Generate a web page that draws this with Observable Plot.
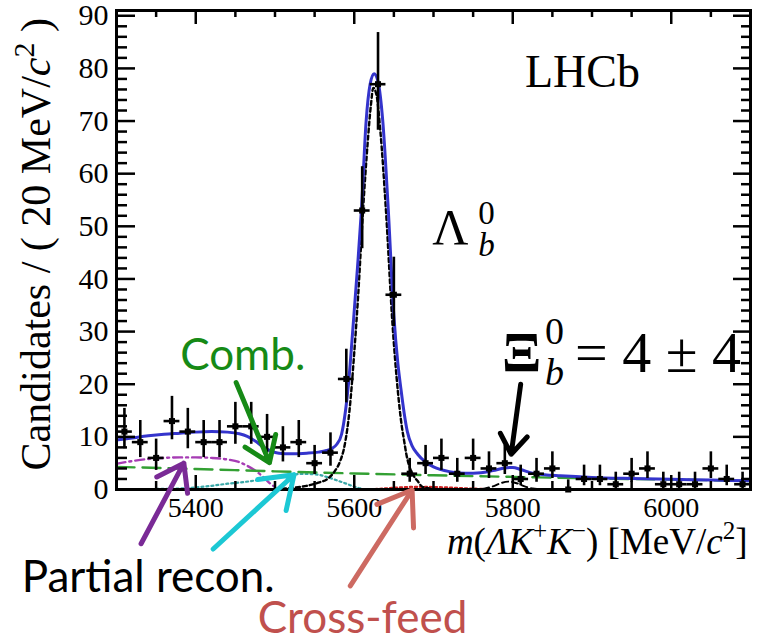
<!DOCTYPE html>
<html><head><meta charset="utf-8">
<script src="https://cdn.jsdelivr.net/npm/d3@7"></script>
<script src="https://cdn.jsdelivr.net/npm/@observablehq/plot@0.6"></script>
<style>html,body{margin:0;padding:0;background:#fff;} #chart svg{display:block;}</style>
</head><body><div id="chart"></div>
<script>
// ---------- data ----------
const binCenters = [5310,5330,5350,5370,5390,5410,5430,5450,5470,5490,5510,5530,5550,5570,5590,5610,5630,5650,5670,5690,5710,5730,5750,5770,5790,5810,5830,5850,5870,5890,5910,5930,5950,5970,5990,6010,6030,6050,6070,6090];
const counts     = [11,9,6,13,11,9,9,12,12,10,8,9,5,7,21,53,77,37,3,5,6,3,6,4,5,2,3,4,0,2,2,1,3,4,1,1,1,4,2,1];

// total fit (blue)
const totalM = [5300,5320,5340,5360,5380,5400,5420,5440,5455,5465,5475,5485,5495,5505,5520,5540,5555,5565,5572,5578,5584,5589,5593,5599,5604,5609,5615,5620,5625,5630,5636,5643,5650,5655,5659,5663,5667,5673,5680,5690,5700,5720,5740,5760,5775,5790,5800,5810,5822,5840,5860,5900,5950,6000,6050,6100];
const totalV = [9.4,9.8,10.2,10.5,10.7,10.9,11.0,10.9,10.6,10.1,9.2,8.1,7.3,6.9,6.8,6.9,7.1,7.4,7.8,8.6,10.5,15,20.5,32,42,53,70,77,79,77.5,70,53,33,24,19,14.5,11,8.3,6.7,5.2,4.3,3.4,3.1,3.2,3.6,4.1,4.2,3.8,3.2,2.8,2.6,2.3,2.1,1.95,1.8,1.65];
// Lambda_b signal (black short dashes)
const sigM = [5500,5520,5540,5555,5566,5575,5582,5588,5594,5600,5605,5611,5617,5621,5624,5628,5633,5640,5648,5655,5660,5663,5666,5670,5675,5680,5686,5700,5720];
const sigV = [0.1,0.3,0.7,1.3,2.0,3.4,5.3,8.5,15,26,37,52.8,66,73,76.3,75,68,53,32,18.7,12,9.2,6.5,4.2,2.6,1.6,0.5,0.1,0];
// combinatorial (green long dashes)
const combM = [5300,5400,5500,5600,5700,5800,5900,6000,6100];
const combV = [4.3,3.9,3.45,3.05,2.7,2.4,2.1,1.9,1.6];
// partially reconstructed 1 (purple dash-dot)
const prM = [5300,5320,5340,5360,5380,5400,5420,5440,5455,5465,5475,5485,5495,5505];
const prV = [4.9,5.4,5.8,6.0,6.1,6.1,6.0,5.7,5.2,4.5,3.6,2.4,1.0,0.1];
// partially reconstructed 2 (cyan dotted)
const cyM = [5300,5350,5380,5400,5420,5440,5460,5480,5500,5520,5535,5550,5565,5575,5590,5605,5615];
const cyV = [0.05,0.1,0.2,0.4,0.7,1.1,1.4,1.85,2.4,2.8,2.95,2.9,2.4,1.9,1.1,0.3,0];
// Xi_b signal (black dashes)
const xiM = [5750,5765,5775,5785,5795,5805,5815,5825,5840];
const xiV = [0,0.2,0.6,1.2,1.5,1.2,0.6,0.2,0];
// cross-feed (red dotted)
const cfM = [5620,5640,5660,5680,5700,5720,5740,5760,5780];
const cfV = [0,0.2,0.4,0.5,0.45,0.35,0.2,0.1,0];

// axis ticks
const xMajor = [5400,5600,5800,6000];
const xMinor = [5350,5450,5500,5550,5650,5700,5750,5850,5900,5950,6050];
const yMajor = [0,10,20,30,40,50,60,70,80,90];
const yMinor = d3.range(2, 91, 2).filter(v => v % 10 !== 0);

// ---------- layout ----------
const serif = "'Liberation Serif','Times New Roman',serif";
const greek = "'Liberation Serif','DejaVu Serif',serif";
const sans = "Lato,'Open Sans',sans-serif";
const W = 760, H = 641, mT = 10, mB = 152, mL = 116, mR = 10;
const fH = H - mT - mB, fW = W - mL - mR;

function poisLo(n){ if (n === 0) return 0; return n*Math.pow(1 - 1/(9*n) - 1/(3*Math.sqrt(n)), 3); }
function poisHi(n){ const k = n + 1; return k*Math.pow(1 - 1/(9*k) + 1/(3*Math.sqrt(k)), 3); }
const rows = (ms, vs) => ms.map((m, i) => ({m, v: vs[i]}));
const pts = binCenters.map((m, i) => ({m, n: counts[i], lo: poisLo(counts[i]), hi: poisHi(counts[i])}));

const arrows = [
  {x1: 5451, y1: 20.3, x2: 5493, y2: 5.1, color: "#168a16"},   // Comb.
  {x1: 5331, y1: -10.3, x2: 5385, y2: 5.0, color: "#7a2a96"},  // Partial recon. (purple)
  {x1: 5422, y1: -11.3, x2: 5524, y2: 2.8, color: "#1cc8d4"},  // Partial recon. (cyan)
  {x1: 5595, y1: -18.3, x2: 5673, y2: -0.1, color: "#cd6a62"}, // Cross-feed
  {x1: 5810, y1: 20.0, x2: 5798, y2: 6.7, color: "#000000"}    // Xi_b
];

const line = (ms, vs, o) => Plot.line(rows(ms, vs), {x: "m", y: "v", curve: "monotone-x", ...o});

const svg = Plot.plot({
  width: W, height: H,
  marginTop: mT, marginBottom: mB, marginLeft: mL, marginRight: mR,
  x: {domain: [5300, 6100], axis: null},
  y: {domain: [0, 91], axis: null},
  style: {background: "white", fontFamily: serif, overflow: "visible", color: "black"},
  marks: [
    line(cyM, cyV, {stroke: "#3aa8a8", strokeWidth: 2.2, strokeDasharray: "2,3"}),
    line(prM, prV, {stroke: "#a63cb4", strokeWidth: 2.4, strokeDasharray: "9,4,2,4"}),
    line(cfM, cfV, {stroke: "#cc2222", strokeWidth: 2.4, strokeDasharray: "2,3"}),
    line(xiM, xiV, {stroke: "black", strokeWidth: 2, strokeDasharray: "6,4"}),
    line(combM, combV, {stroke: "#33a033", strokeWidth: 2.4, strokeDasharray: "18,8"}),
    line(sigM, sigV, {stroke: "black", strokeWidth: 2.4, strokeDasharray: "4,3"}),
    line(totalM, totalV, {stroke: "#3434cc", strokeWidth: 3}),
    // data with Poisson errors
    Plot.ruleX(pts, {x: "m", y1: "lo", y2: "hi", stroke: "black", strokeWidth: 2.6}),
    Plot.ruleY(pts, {y: "n", x1: d => d.m - 10, x2: d => d.m + 10, stroke: "black", strokeWidth: 2.6}),
    Plot.dot(pts, {x: "m", y: "n", symbol: "square", r: 3.4, fill: "black", stroke: null}),
    // ticks (inward, all four sides)
    Plot.tickX(xMajor, {x: d => d, insetTop: fH - 14, strokeWidth: 2.5}),
    Plot.tickX(xMinor, {x: d => d, insetTop: fH - 8, strokeWidth: 2.5}),
    Plot.tickX(xMajor, {x: d => d, insetBottom: fH - 14, strokeWidth: 2.5}),
    Plot.tickX(xMinor, {x: d => d, insetBottom: fH - 7, strokeWidth: 2.5}),
    Plot.tickY(yMajor, {y: d => d, insetRight: fW - 19, strokeWidth: 2.5}),
    Plot.tickY(yMinor, {y: d => d, insetRight: fW - 11, strokeWidth: 2.5}),
    Plot.tickY(yMajor, {y: d => d, insetLeft: fW - 17, strokeWidth: 2.5}),
    Plot.tickY(yMinor, {y: d => d, insetLeft: fW - 9, strokeWidth: 2.5}),
    Plot.frame({stroke: "black", strokeWidth: 3}),
    // tick labels
    Plot.text(yMajor, {y: d => d, text: d => String(d), frameAnchor: "left", textAnchor: "end", dx: -8, fontSize: 30, fontFamily: serif, fill: "black"}),
    Plot.text(xMajor, {x: d => d, text: d => String(d), frameAnchor: "bottom", lineAnchor: "top", dy: 8, fontSize: 28, fontFamily: serif, fill: "black"}),
    // arrows
    ...arrows.map(a => Plot.arrow([a], {x1: "x1", y1: "y1", x2: "x2", y2: "y2", stroke: a.color, strokeWidth: 5, headLength: 15, headAngle: 70}))
  ]
});

// ---------- rich-text annotations placed through the plot's scales ----------
const sx = svg.scale("x"), sy = svg.scale("y");
const X = v => sx.apply(v), Y = v => sy.apply(v);
const root = d3.select(svg);
function addText(m, v, size, family, fill, parts, anchor = "start") {
  const t = root.append("text").attr("x", X(m)).attr("y", Y(v))
    .attr("font-size", size).attr("font-family", family).attr("fill", fill).attr("text-anchor", anchor);
  let shift = 0;
  for (const p of parts) {
    const s = t.append("tspan").text(p.t);
    if (p.i) s.attr("font-style", "italic");
    const target = p.sup ? -0.4 * size : p.sub ? 0.22 * size : 0;
    if (target !== shift) { s.attr("dy", target - shift); shift = target; }
    if (p.sup || p.sub) s.attr("font-size", size * 0.68);
  }
  return t;
}
function addPiece(m, v, dx, dy, size, family, fill, txt, italic, bold) {
  root.append("text").attr("x", X(m) + dx).attr("y", Y(v) + dy)
    .attr("text-anchor", "start")
    .attr("font-size", size).attr("font-family", family).attr("fill", fill)
    .attr("font-weight", bold ? "bold" : "normal")
    .attr("font-style", italic ? "italic" : "normal").text(txt);
}

// LHCb
addText(5816, 76.4, 46, serif, "black", [{t: "LHCb"}]);
// Lambda_b^0
addPiece(5699, 46.5, 0, 0, 50, greek, "black", "Λ");
addPiece(5699, 46.5, 46, -20, 33, serif, "black", "0");
addPiece(5699, 46.5, 46, 12, 33, serif, "black", "b", true);
// Xi_b^0 = 4 ± 4
addPiece(5787, 22.2, 0, 0, 58, greek, "black", "Ξ", false, true);
addPiece(5787, 22.2, 43, -28, 38, serif, "black", "0");
addPiece(5787, 22.2, 43, 13, 38, serif, "black", "b", true);
addPiece(5787, 22.2, 73, 0, 58, serif, "black", "= 4 ± 4");
// labels
addText(5381, 22.6, 44, sans, "#168a16", [{t: "Comb."}]);
addText(5181, -19.5, 44, sans, "black", [{t: "Partial recon."}]);
addText(5479, -27.3, 44, sans, "#c0504d", [{t: "Cross-feed"}]);
// x-axis title
addText(6097, -12.3, 37, serif, "black", [
  {t: "m", i: true}, {t: "("}, {t: "Λ", i: true}, {t: "K", i: true}, {t: "+", sup: true},
  {t: "K", i: true}, {t: "−", sup: true}, {t: ") [MeV/"}, {t: "c", i: true}, {t: "2", sup: true}, {t: "]"}
], "end");
// y-axis title
{
  const t = root.append("text")
    .attr("transform", `translate(${X(5300) - 66},${Y(46.5)}) rotate(-90)`)
    .attr("text-anchor", "middle").attr("font-size", 42).attr("font-family", serif).attr("fill", "black");
  t.append("tspan").text("Candidates / ( 20 MeV/");
  t.append("tspan").attr("font-style", "italic").text("c");
  t.append("tspan").attr("font-size", 30).attr("dy", -16).text("2");
  t.append("tspan").attr("dy", 16).text(" )");
}

document.getElementById("chart").appendChild(svg);
</script>
</body></html>
